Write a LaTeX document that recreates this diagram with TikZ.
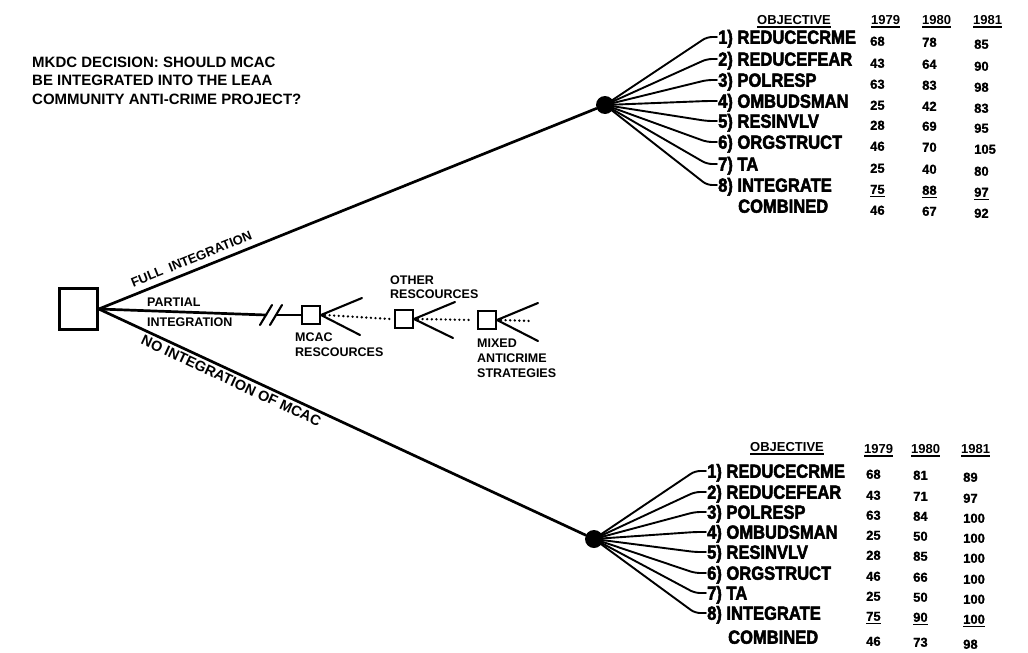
\documentclass[tikz,border=0pt]{standalone}
\usepackage{fontspec}
\setmainfont{Liberation Sans}
% hand-lettered captions, heavy objective names, table figures
\newfontfamily\leroy{Liberation Sans}[UprightFont={* Bold}]
\newfontfamily\heavy{Liberation Sans}[UprightFont={* Bold},FakeStretch=0.87,FakeBold=2.5]
\newfontfamily\numf{Liberation Sans}[UprightFont={* Bold},FakeBold=1]
% thick underline that keeps the width of its text
\newcommand\undl[1]{\setbox0\hbox{#1}\rlap{\rule[-3.5pt]{\wd0}{1.5pt}}\box0}

\begin{document}
\begin{tikzpicture}[x=1pt,y=-1pt,line cap=round,
  lettering/.style={font=\leroy\fontsize{12.5}{14}\selectfont, inner sep=0pt, text height=9pt, text depth=0pt},
  titletext/.style={font=\leroy\fontsize{15}{18}\selectfont, inner sep=0pt, anchor=base west},
  heavytext/.style={font=\heavy\fontsize{19}{21}\selectfont, inner sep=0pt, anchor=west, text height=13.5pt, text depth=0pt},
  numtext/.style={font=\numf\fontsize{13}{15}\selectfont, inner sep=0pt, anchor=west, text height=9.5pt, text depth=0pt},
  headtext/.style={font=\leroy\fontsize{13}{15}\selectfont, inner sep=0pt, anchor=west, text height=10pt, text depth=0pt},
  branch/.style={line width=2.7pt},
  fanline/.style={line width=1.9pt, rounded corners=5pt},
  decision/.style={draw, line width=2.6pt, minimum width=38pt, minimum height=41pt, inner sep=0pt},
  subdecision/.style={draw, line width=2pt, minimum size=18pt, inner sep=0pt},
  chance/.style={circle, fill=black, minimum size=18pt, inner sep=0pt},
  twig/.style={line width=2.1pt},
  dots/.style={line width=2.6pt, dash pattern=on 0pt off 4.6pt, line cap=round},
]
\fill[white] (0,0) rectangle (1028,653);
\useasboundingbox (0,0) rectangle (1028,653);

% question
\node[titletext] (q1) at (32,67)  {MKDC DECISION: SHOULD MCAC};
\node[titletext] (q2) at (32,85)  {BE INTEGRATED INTO THE LEAA};
\node[titletext] (q3) at (32,104) {COMMUNITY ANTI-CRIME PROJECT?};

% decision and chance nodes
\node[decision] (dec) at (78.5,309) {};
\node[chance] (top) at (605,105) {};
\node[chance] (bot) at (594,539) {};

% main alternatives
\draw[branch] (dec.east) -- (top)
  node[pos=0.195, sloped, anchor=south, lettering, font=\leroy\fontsize{13}{15}\selectfont, inner ysep=6pt] (lfull) {FULL\ \ INTEGRATION};
\draw[branch] (dec.east) -- (bot)
  node[pos=0.28, sloped, anchor=north, lettering, font=\leroy\fontsize{14.5}{16}\selectfont, inner ysep=4pt] (lno) {NO INTEGRATION OF MCAC};

% partial integration path with a break
\coordinate (brkA) at (266,315);
\coordinate (brkB) at (276,315);
\draw[branch] (dec.east) -- (brkA);
\draw[twig] ([shift={(-6,10)}]brkA) -- ([shift={(6,-10)}]brkA);
\draw[twig] ([shift={(-6,10)}]brkB) -- ([shift={(6,-10)}]brkB);
\node[lettering, anchor=west] (lpart1) at (147,302) {PARTIAL};
\node[lettering, anchor=west] (lpart2) at (147,322) {INTEGRATION};

\node[subdecision] (mcac)  at (311,315) {};
\node[subdecision] (other) at (404,319) {};
\node[subdecision] (mixed) at (487,320) {};
\draw[twig] (brkB) -- (mcac.west);

\coordinate (mcacU) at (362,298);  \coordinate (mcacD) at (360,335);
\coordinate (otherU) at (455,302); \coordinate (otherD) at (453,338);
\coordinate (mixedU) at (538,303); \coordinate (mixedD) at (538,341);
\coordinate (mixedE) at (531,321);
\draw[twig] (mcac.east) -- (mcacU);   \draw[twig] (mcac.east) -- (mcacD);
\draw[twig] (other.east) -- (otherU); \draw[twig] (other.east) -- (otherD);
\draw[twig] (mixed.east) -- (mixedU); \draw[twig] (mixed.east) -- (mixedD);
\draw[dots] ([xshift=4pt]mcac.east) -- ([xshift=-4pt]other.west);
\draw[dots] ([xshift=4pt]other.east) -- ([xshift=-4pt]mixed.west);
\draw[dots] ([xshift=4pt]mixed.east) -- (mixedE);

\node[lettering, anchor=west] (lm1) at (295,337) {MCAC};
\node[lettering, anchor=west] (lm2) at (295,352) {RESCOURCES};
\node[lettering, anchor=west] (lo1) at (390,280) {OTHER};
\node[lettering, anchor=west] (lo2) at (390,294) {RESCOURCES};
\node[lettering, anchor=west] (lx1) at (477,343) {MIXED};
\node[lettering, anchor=west] (lx2) at (477,358) {ANTICRIME};
\node[lettering, anchor=west] (lx3) at (477,373) {STRATEGIES};

% upper outcome table
\node[headtext] (tobj) at (757,19) {\undl{OBJECTIVE}};
\node[headtext] (ty1) at (871,19) {\undl{1979}};
\node[headtext] (ty2) at (922,19) {\undl{1980}};
\node[headtext] (ty3) at (973,19) {\undl{1981}};
\foreach \k/\y/\lab/\a/\b/\c in {
  1/37/REDUCECRME/68/78/85, 2/59/REDUCEFEAR/43/64/90, 3/80/POLRESP/63/83/98,
  4/101/OMBUDSMAN/25/42/83, 5/121/RESINVLV/28/69/95, 6/142/ORGSTRUCT/46/70/105,
  7/164/TA/25/40/80, 8/185/INTEGRATE/\undl{75}/\undl{88}/\undl{97}} {
  \node[heavytext] (tl\k) at (718,\y) {\k) \lab};
  \draw[fanline] (top.center) -- ([xshift=-11pt]tl\k.west) -- ([xshift=-1pt]tl\k.west);
  \node[numtext] (ta\k) at (870,\y+4) {\a};
  \node[numtext] (tb\k) at (922,\y+5) {\b};
  \node[numtext] (tc\k) at (974,\y+7) {\c};
}
\node[heavytext] (tcomb) at (738,206) {COMBINED};
\node[numtext] (ta9) at (870,210) {46};
\node[numtext] (tb9) at (922,211) {67};
\node[numtext] (tc9) at (974,213) {92};

% lower outcome table
\node[headtext] (bobj) at (750,446) {\undl{OBJECTIVE}};
\node[headtext] (by1) at (864,448) {\undl{1979}};
\node[headtext] (by2) at (911,448) {\undl{1980}};
\node[headtext] (by3) at (961,448) {\undl{1981}};
\foreach \k/\y/\lab/\a/\b/\c in {
  1/471/REDUCECRME/68/81/89, 2/492/REDUCEFEAR/43/71/97, 3/512/POLRESP/63/84/100,
  4/532/OMBUDSMAN/25/50/100, 5/552/RESINVLV/28/85/100, 6/573/ORGSTRUCT/46/66/100,
  7/593/TA/25/50/100, 8/613/INTEGRATE/\undl{75}/\undl{90}/\undl{100}} {
  \node[heavytext] (bl\k) at (707,\y) {\k) \lab};
  \draw[fanline] (bot.center) -- ([xshift=-12pt]bl\k.west) -- ([xshift=-1pt]bl\k.west);
  \node[numtext] (ba\k) at (866,\y+3) {\a};
  \node[numtext] (bb\k) at (913,\y+4) {\b};
  \node[numtext] (bc\k) at (963,\y+6) {\c};
}
\node[heavytext] (bcomb) at (728,637) {COMBINED};
\node[numtext] (ba9) at (866,641) {46};
\node[numtext] (bb9) at (913,642) {73};
\node[numtext] (bc9) at (963,644) {98};
\end{tikzpicture}
\end{document}
